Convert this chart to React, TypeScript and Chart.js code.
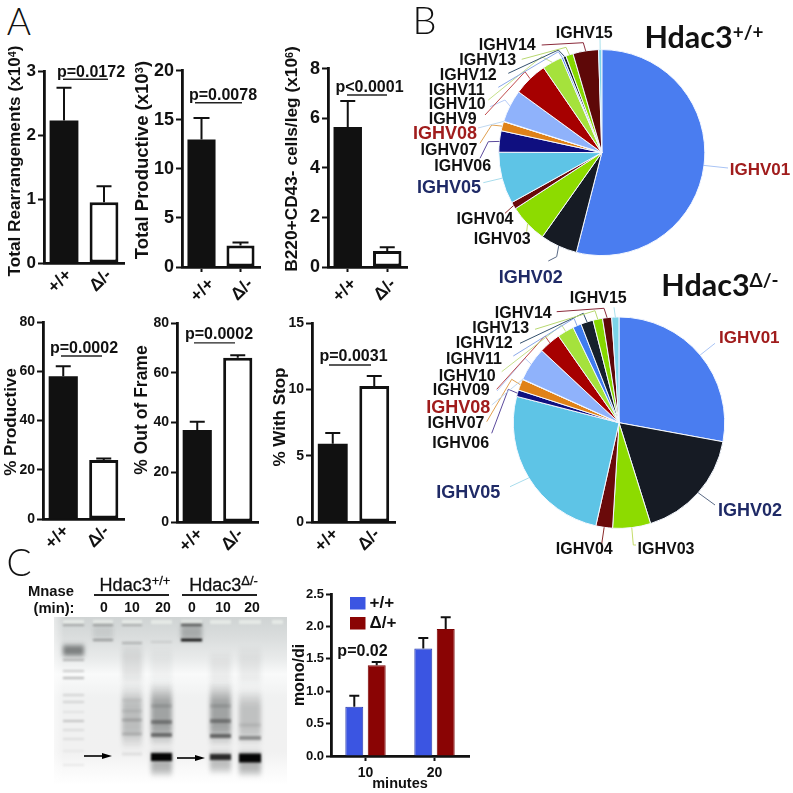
import React, { useEffect, useRef } from "react";
import { Chart, registerables } from "chart.js";

Chart.register(...registerables);

const BOLD = "bold";
const SANS = "'Liberation Sans', Arial, sans-serif";
const INK = "#111111";

// ---------- data ----------
const genotypes = ["+/+", "Δ/-"];
const rearrangements = [2.23, 0.95];
const rearrangementsHigh = [2.74, 1.2];
const productiveTotal = [13, 2.2];
const productiveTotalHigh = [15.2, 2.5];
const bCells = [5.65, 0.65];
const bCellsHigh = [6.7, 0.8];
const productivePct = [58, 24];
const productivePctHigh = [62, 24.6];
const outOfFrame = [37, 66];
const outOfFrameHigh = [40.3, 67];
const withStop = [5.9, 10.25];
const withStopHigh = [6.7, 11];

const ighv = ["IGHV01", "IGHV02", "IGHV03", "IGHV04", "IGHV05", "IGHV06", "IGHV07", "IGHV08", "IGHV09", "IGHV10", "IGHV11", "IGHV12", "IGHV13", "IGHV14", "IGHV15", "other"];
const pieWild = [53.9, 5.8, 6.05, 1.1, 8.1, 3.35, 1.45, 0.06, 5.1, 5.4, 3.15, 0.3, 0.45, 1.15, 4.0, 0.5];
const pieKo = [27.9, 17.3, 5.8, 2.55, 25.5, 1.0, 1.7, 0.06, 5.2, 3.35, 2.55, 1.3, 1.9, 1.45, 1.4, 1.1];
const pieColors = ["#4a7df0", "#161b24", "#8ddb00", "#6a0a0a", "#5ec4e6", "#0f0f80", "#e08218", "#cfe0f5", "#8fb2fb", "#a60000", "#a5e23c", "#3f7cf0", "#16202c", "#86d800", "#5e0808", "#7cd3e8"];
const leaderColors = ["#a9c4f5", "#5a6a85", "#c5dc6a", "#8a2a2a", "#a8dcec", "#5b4a9c", "#e0a050", "#c0d8f0", "#b8cdf8", "#c04a4a", "#c5e08a", "#8aa8e8", "#34506e", "#b8d870", "#8a2a3a", "#a8e0ec"];

const minutes = ["10", "20"];
const monoDiWild = [0.76, 1.66];
const monoDiWildHigh = [0.93, 1.82];
const monoDiKo = [1.4, 1.96];
const monoDiKoHigh = [1.45, 2.14];

// gel: [y, height, strength]
const markerBands = [[625, 1.2, 0.4], [660, 1.6, 0.3], [671, 1.2, 0.3], [678, 1.5, 0.35], [695, 1.2, 0.22], [702, 1.2, 0.22], [712, 1, 0.13], [721, 1.5, 0.26], [730, 1, 0.18], [739, 1, 0.17], [751, 1, 0.09], [765, 1.2, 0.11]];
const markerSmear = [[643, 658, 0.5]];
const lane0Bands = [[625, 1.2, 0.45], [640, 1.2, 0.5]];
const lane0Smear = [[622, 643, 0.08]];
const lane10Bands = [[625, 1.2, 0.35], [643, 1.2, 0.35], [700, 2.5, 0.06], [711, 2.5, 0.08], [720, 2.5, 0.18], [734, 2.5, 0.16], [754, 3, 0.08]];
const lane10Smear = [[640, 690, 0.09], [684, 750, 0.24]];
const lane20Bands = [[642, 1, 0.18], [706, 3, 0.12], [722, 4, 0.32], [735, 4, 0.45], [757, 8, 1]];
const lane20Smear = [[645, 690, 0.04], [682, 748, 0.36], [748, 778, 0.3]];
const ko0Bands = [[625, 2.5, 0.55], [640, 2.5, 1]];
const ko0Smear = [[622, 643, 0.25]];
const ko10Bands = [[706, 3, 0.12], [721, 4, 0.32], [736, 4, 0.5], [757, 6, 0.8]];
const ko10Smear = [[650, 690, 0.06], [682, 748, 0.36], [748, 775, 0.25]];
const ko20Bands = [[725, 3, 0.08], [738, 4, 0.35], [758, 9, 1]];
const ko20Smear = [[645, 690, 0.06], [688, 748, 0.22], [748, 778, 0.3]];

// ---------- layout (page pixels) ----------
const barPanels = [
  { id: "a1", v: rearrangements, hi: rearrangementsHigh, max: 3, step: 1, axisX: 44, x1: 124, top: 71, y0: 263, font: 17, xTick: 0, p: "p=0.0172", pY: 2.875, pX: [63, 108], pC: 91, pD: 2, cap: 7.5, labelShift: 5 },
  { id: "a2", v: productiveTotal, hi: productiveTotalHigh, max: 20, step: 5, axisX: 182, x1: 260, top: 70, y0: 267, font: 18, xTick: 5, p: "p=0.0078", pY: 16.75, pX: [195, 242], pC: 223, pD: 3, cap: 8, labelShift: 10 },
  { id: "a3", v: bCells, hi: bCellsHigh, max: 8, step: 2, axisX: 328, x1: 407, top: 68, y0: 267, font: 18, xTick: 5, p: "p<0.0001", pY: 6.94, pX: [347, 387], pC: 369.5, pD: 3, cap: 7.5, labelShift: 6 },
  { id: "a4", v: productivePct, hi: productivePctHigh, max: 80, step: 20, axisX: 43, x1: 124, top: 322, y0: 519, font: 14, xTick: 0, p: "p=0.0002", pY: 66.2, pX: [61, 102], pC: 84, pD: 3, cap: 7.5, labelShift: 3 },
  { id: "a5", v: outOfFrame, hi: outOfFrameHigh, max: 80, step: 20, axisX: 177, x1: 258, top: 323, y0: 522, font: 14, xTick: 0, p: "p=0.0002", pY: 72, pX: [194, 235], pC: 219, pD: 4, cap: 7.5, labelShift: 3 },
  { id: "a6", v: withStop, hi: withStopHigh, max: 15, step: 5, axisX: 312, x1: 395, top: 323, y0: 522, font: 14, xTick: 0, p: "p=0.0031", pY: 11.83, pX: [329, 371], pC: 353.5, pD: 4, cap: 7.5, labelShift: 3 },
];

const pieWildLayout = {
  left: 405, top: 20, width: 388, height: 268, cx: 601.8, cy: 152.6, r: 102.5,
  labels: [
    [760, 170.7, 17, "#a01c1c"], [530.7, 278, 18, "#1f2a66"], [502.3, 240, 16, INK], [485, 220, 16, INK], [449, 188, 18, "#1f2a66"],
    [462.7, 166.7, 16, INK], [449, 150.7, 16, INK], [445, 134, 18, "#a01c1c"], [452.7, 119.3, 16, INK], [457.3, 105, 16, INK],
    [456.7, 90.7, 16, INK], [468.3, 76, 16, INK], [487.7, 61, 16, INK], [507.3, 46, 16, INK], [584.3, 33.3, 16, INK],
  ],
  names: ["IGHV01", "IGHV02", "IGHV03", "IGHV04", "IGHV05", "IGHV06", "IGHV07", "IGHV08", "IGHV9", "IGHV10", "IGHV11", "IGHV12", "IGHV13", "IGHV14", "IGHV15"],
  leaders: [
    [[728, 168]], [[556.7, 256.7], [548.3, 261]], [[526.7, 231.7]], [[505, 213.3]], [[483.3, 182.7]],
    [[488.3, 141.7], [480, 158.3]], [[491.7, 125], [480, 143.3]], [[478, 128]], [[505, 100], [490, 106.7]], [[525, 71.7], [485, 115]],
    [[541.7, 56.7], [488.3, 100]], [[558.3, 51.7], [498.3, 87.3]], [[558.3, 50], [508.3, 73.3]], [[566, 47.3], [521.7, 59.3]], [[583.3, 42.7], [541.7, 45]], [[600, 36.7]],
  ],
};

const pieKoLayout = {
  left: 405, top: 285, width: 388, height: 285, cx: 619, cy: 422.7, r: 105.2,
  labels: [
    [749.3, 338.3, 17, "#a01c1c"], [750, 510.7, 18, "#1f2a66"], [666, 550, 16, INK], [584.3, 550, 16, INK], [468.3, 493.3, 18, "#1f2a66"],
    [460.7, 443.3, 16, INK], [456, 424, 16, INK], [458.3, 407.7, 18, "#a01c1c"], [461.3, 391, 16, INK], [467.3, 376.7, 16, INK],
    [474, 360, 16, INK], [484.3, 343.3, 16, INK], [500.7, 328.3, 16, INK], [523.3, 313.3, 16, INK], [598.3, 298.3, 16, INK],
  ],
  names: ["IGHV01", "IGHV02", "IGHV03", "IGHV04", "IGHV05", "IGHV06", "IGHV07", "IGHV08", "IGHV09", "IGHV10", "IGHV11", "IGHV12", "IGHV13", "IGHV14", "IGHV15"],
  leaders: [
    [[715, 343.3]], [[715, 505]], [[633.3, 545], [636, 545]], [[601.7, 544]], [[510, 486.7]],
    [[508.3, 389.3], [491.7, 433.3]], [[511.7, 379.3], [486.7, 421.7]], [[491.7, 405]], [[525, 358.3], [497, 391]], [[545, 336], [496.7, 389.3]],
    [[561.7, 325], [501.7, 371.7]], [[574, 318.3], [513.3, 356]], [[583.3, 313.3], [520, 343.3]], [[595, 310.7], [535, 329.3]], [[604, 308.3], [556.7, 311.7]], [[614, 307.3]],
  ],
};

// ---------- plugins ----------
function hiPlugin(series: { hi: number[]; cap: number; dataset: number }[]) {
  return {
    id: "errorBars",
    afterDatasetsDraw(chart: any) {
      const ctx = chart.ctx;
      const y = chart.scales.y;
      ctx.save();
      ctx.strokeStyle = INK;
      ctx.lineWidth = 2;
      series.forEach((s) => {
        const meta = chart.getDatasetMeta(s.dataset);
        s.hi.forEach((h, i) => {
          const el = meta.data[i];
          const yy = y.getPixelForValue(h);
          ctx.beginPath();
          ctx.moveTo(el.x, el.y);
          ctx.lineTo(el.x, yy);
          ctx.moveTo(el.x - s.cap, yy);
          ctx.lineTo(el.x + s.cap, yy);
          ctx.stroke();
        });
      });
      ctx.restore();
    },
  };
}

function bracketPlugin(P: any, left: number) {
  return {
    id: "bracket",
    afterDraw(chart: any) {
      const ctx = chart.ctx;
      const yy = chart.scales.y.getPixelForValue(P.pY);
      ctx.save();
      ctx.strokeStyle = "#222";
      ctx.lineWidth = 1.4;
      ctx.beginPath();
      ctx.moveTo(P.pX[0] - left, yy);
      ctx.lineTo(P.pX[1] - left, yy);
      ctx.stroke();
      ctx.fillStyle = INK;
      ctx.font = `bold 16px ${SANS}`;
      ctx.textAlign = "center";
      ctx.fillText(P.p, P.pC - left, yy - P.pD);
      ctx.restore();
    },
  };
}

function pieLabelPlugin(L: any) {
  return {
    id: "pieLabels",
    afterDraw(chart: any) {
      const ctx = chart.ctx;
      const arcs = chart.getDatasetMeta(0).data;
      ctx.save();
      ctx.lineWidth = 1;
      L.leaders.forEach((pts: number[][], i: number) => {
        const a = arcs[i];
        const mid = (a.startAngle + a.endAngle) / 2;
        ctx.strokeStyle = leaderColors[i];
        ctx.beginPath();
        ctx.moveTo(a.x + Math.cos(mid) * a.outerRadius, a.y + Math.sin(mid) * a.outerRadius);
        pts.forEach((p) => ctx.lineTo(p[0] - L.left, p[1] - L.top));
        ctx.stroke();
      });
      ctx.textAlign = "center";
      ctx.textBaseline = "middle";
      L.labels.forEach((l: any[], i: number) => {
        ctx.font = `bold ${l[2]}px ${SANS}`;
        ctx.fillStyle = l[3];
        ctx.fillText(L.names[i], l[0] - L.left, l[1] - L.top);
      });
      ctx.restore();
    },
  };
}

function legendPlugin(left: number, top: number) {
  return {
    id: "sideLegend",
    afterDraw(chart: any) {
      const ctx = chart.ctx;
      ctx.save();
      chart.data.datasets.forEach((d: any, i: number) => {
        const y = 597 + i * 20 - top;
        ctx.fillStyle = d.backgroundColor;
        ctx.fillRect(350 - left, y, 15.5, 12.5);
        ctx.fillStyle = INK;
        ctx.font = `bold 17px ${SANS}`;
        ctx.textBaseline = "middle";
        ctx.fillText(d.label, 369.5 - left, y + 6);
      });
      ctx.font = `bold 16px ${SANS}`;
      ctx.textBaseline = "alphabetic";
      ctx.textAlign = "center";
      ctx.fillText("p=0.02", 362.5 - left, 656 - top);
      ctx.restore();
    },
  };
}

// ---------- charts ----------
function axisOpts(font: number, tickLen: number, extra: any) {
  return {
    border: { color: INK, width: 2.8 },
    grid: { drawOnChartArea: false, drawTicks: true, tickLength: tickLen, tickWidth: tickLen ? 2 : 0, tickColor: INK, offset: false },
    ticks: { color: INK, font: { family: SANS, weight: BOLD, size: font }, autoSkip: false, padding: 2, ...extra },
  };
}

function drawBar(canvas: HTMLCanvasElement, P: any) {
  const left = P.axisX - 42;
  return new Chart(canvas, {
    type: "bar",
    data: {
      labels: genotypes,
      datasets: [{
        data: P.v,
        backgroundColor: ["#111111", "#ffffff"],
        borderColor: ["#111111", "#111111"],
        borderWidth: [0, 3],
        borderSkipped: false,
        barPercentage: 0.72,
        categoryPercentage: 1,
      }],
    },
    options: {
      animation: false,
      responsive: false,
      devicePixelRatio: 1,
      layout: { padding: { top: 12, right: 14, left: 0, bottom: 0 } },
      plugins: { legend: { display: false }, tooltip: { enabled: false } },
      scales: {
        x: { ...axisOpts(17.5, P.xTick, { minRotation: 45, maxRotation: 45, labelOffset: P.labelShift }), afterFit: (s: any) => { s.height = 40; } },
        y: { ...axisOpts(P.font, 6, { stepSize: P.step }), min: 0, max: P.max, afterFit: (s: any) => { s.width = 42; } },
      },
    } as any,
    plugins: [hiPlugin([{ hi: P.hi, cap: P.cap, dataset: 0 }]), bracketPlugin(P, left)],
  });
}

function drawPie(canvas: HTMLCanvasElement, values: number[], L: any) {
  const R = L.r + 1;
  return new Chart(canvas, {
    type: "pie",
    data: { labels: ighv, datasets: [{ data: values, backgroundColor: pieColors, borderColor: "#f4f8ff", borderWidth: 1 }] },
    options: {
      animation: false,
      responsive: false,
      devicePixelRatio: 1,
      layout: { padding: { left: L.cx - R - L.left, top: L.cy - R - L.top, right: L.left + L.width - L.cx - R, bottom: L.top + L.height - L.cy - R } },
      plugins: { legend: { display: false }, tooltip: { enabled: false } },
    } as any,
    plugins: [pieLabelPlugin(L)],
  });
}

const C7 = { left: 290, top: 582, width: 188, height: 211, axisX: 331, x1: 469, yTop: 594, y0: 756 };
function drawMono(canvas: HTMLCanvasElement) {
  const C = C7;
  return new Chart(canvas, {
    type: "bar",
    data: {
      labels: minutes,
      datasets: [
        { label: "+/+", data: monoDiWild, backgroundColor: "#3b55e2", borderColor: "#2a3cae", borderWidth: 1, barPercentage: 0.8, categoryPercentage: 0.65 },
        { label: "Δ/+", data: monoDiKo, backgroundColor: "#8a0404", borderColor: "#7a0404", borderWidth: 1, barPercentage: 0.8, categoryPercentage: 0.65 },
      ],
    },
    options: {
      animation: false,
      responsive: false,
      devicePixelRatio: 1,
      layout: { padding: { top: C.yTop - C.top, right: C.left + C.width - C.x1, left: 0, bottom: 0 } },
      plugins: { legend: { display: false }, tooltip: { enabled: false } },
      scales: {
        x: {
          ...axisOpts(14, 5, { maxRotation: 0, padding: 4 }),
          title: { display: true, text: "minutes", color: INK, font: { family: SANS, weight: BOLD, size: 14.5 }, padding: 0 },
          afterFit: (s: any) => { s.height = C.top + C.height - C.y0; },
        },
        y: {
          ...axisOpts(13, 5, { stepSize: 0.5, callback: (v: number) => v.toFixed(1) }),
          min: 0, max: 2.5,
          title: { display: true, text: "mono/di", color: INK, font: { family: SANS, weight: BOLD, size: 16 }, padding: 0 },
          afterFit: (s: any) => { s.width = C.axisX - C.left; },
        },
      },
    } as any,
    plugins: [hiPlugin([{ hi: monoDiWildHigh, cap: 5, dataset: 0 }, { hi: monoDiKoHigh, cap: 5, dataset: 1 }]), legendPlugin(C.left, C.top)],
  });
}

// ---------- gel image (not a chart: a photographed gel, painted in grey) ----------
const GEL = { x: 54, y: 617, w: 233, h: 168 };
function drawGel(canvas: HTMLCanvasElement) {
  const ctx = canvas.getContext("2d")!;
  const { x: gx, y: gy, w, h } = GEL;
  const bg = ctx.createLinearGradient(0, 0, 0, h);
  bg.addColorStop(0, "#cfd3d3");
  bg.addColorStop(0.12, "#dadddd");
  bg.addColorStop(0.25, "#e9ebeb");
  bg.addColorStop(0.34, "#f9fafa");
  bg.addColorStop(0.48, "#f0f1f1");
  bg.addColorStop(0.8, "#f1f1f1");
  bg.addColorStop(0.92, "#fafafa");
  bg.addColorStop(1, "#ffffff");
  ctx.fillStyle = bg;
  ctx.fillRect(0, 0, w, h);
  const side = ctx.createLinearGradient(0, 0, 10, 0);
  side.addColorStop(0, "rgba(255,255,255,0.5)");
  side.addColorStop(1, "rgba(255,255,255,0)");
  ctx.fillStyle = side;
  ctx.fillRect(0, 0, 10, h);

  const lanes = [
    { x0: 63, x1: 84, bands: markerBands, smear: markerSmear },
    { x0: 93, x1: 113, bands: lane0Bands, smear: lane0Smear },
    { x0: 122, x1: 142, bands: lane10Bands, smear: lane10Smear },
    { x0: 151, x1: 172, bands: lane20Bands, smear: lane20Smear },
    { x0: 181, x1: 202, bands: ko0Bands, smear: ko0Smear },
    { x0: 210, x1: 231, bands: ko10Bands, smear: ko10Smear },
    { x0: 239, x1: 261, bands: ko20Bands, smear: ko20Smear },
    { x0: 272, x1: 283, bands: [], smear: [] },
  ];
  lanes.forEach((l) => {
    const X = l.x0 - gx;
    const W = l.x1 - l.x0;
    ctx.filter = "blur(1.2px)";
    ctx.fillStyle = "rgba(236,240,236,0.75)";
    ctx.fillRect(X, 3, W, 4);
    ctx.filter = "blur(2px)";
    l.smear.forEach(([a, b, s]) => {
      const g = ctx.createLinearGradient(0, a - gy, 0, b - gy);
      g.addColorStop(0, "rgba(20,25,25,0)");
      g.addColorStop(0.3, `rgba(20,25,25,${s})`);
      g.addColorStop(0.7, `rgba(20,25,25,${s})`);
      g.addColorStop(1, "rgba(20,25,25,0)");
      ctx.fillStyle = g;
      ctx.fillRect(X, a - gy, W, b - a);
    });
    ctx.filter = "blur(1.1px)";
    l.bands.forEach(([y, bh, s]) => {
      ctx.fillStyle = `rgba(5,5,5,${s})`;
      ctx.fillRect(X, y - gy - bh / 2, W, bh);
    });
  });
  ctx.filter = "none";
  // arrows
  [[84, 112, 756], [177, 205, 758]].forEach(([a, b, y]) => {
    ctx.strokeStyle = "#000";
    ctx.lineWidth = 1.6;
    ctx.beginPath();
    ctx.moveTo(a - gx, y - gy);
    ctx.lineTo(b - gx - 8, y - gy);
    ctx.stroke();
    ctx.fillStyle = "#000";
    ctx.beginPath();
    ctx.moveTo(b - gx, y - gy);
    ctx.lineTo(b - gx - 10, y - gy - 3);
    ctx.lineTo(b - gx - 10, y - gy + 3);
    ctx.fill();
  });
}

// ---------- text ----------
function T({ x, y, size, rot, weight, color, family, stroke, children }: any) {
  return (
    <div
      style={{
        position: "absolute", left: x, top: y, transform: `translate(-50%,-50%) rotate(${rot || 0}deg)`,
        fontFamily: family || SANS, fontSize: size, fontWeight: weight || "bold", color: color || INK,
        whiteSpace: "nowrap", lineHeight: 1, WebkitTextStroke: stroke ? `${stroke}px ${INK}` : undefined,
      }}
    >
      {children}
    </div>
  );
}
const Sup = ({ children, size }: any) => (
  <span style={{ fontSize: size || "0.62em", verticalAlign: "0.45em", lineHeight: 0 }}>{children}</span>
);

export default function App() {
  const barRefs = useRef<(HTMLCanvasElement | null)[]>([]);
  const pie1 = useRef<HTMLCanvasElement>(null);
  const pie2 = useRef<HTMLCanvasElement>(null);
  const mono = useRef<HTMLCanvasElement>(null);
  const gel = useRef<HTMLCanvasElement>(null);

  useEffect(() => {
    const charts = barPanels.map((P, i) => drawBar(barRefs.current[i]!, P));
    charts.push(drawPie(pie1.current!, pieWild, pieWildLayout));
    charts.push(drawPie(pie2.current!, pieKo, pieKoLayout));
    charts.push(drawMono(mono.current!));
    drawGel(gel.current!);
    return () => charts.forEach((c) => c.destroy());
  }, []);

  const abs = (left: number, top: number): React.CSSProperties => ({ position: "absolute", left, top });

  return (
    <div style={{ position: "absolute", left: 0, top: 0, width: 793, height: 793, overflow: "hidden", background: "#fff" }}>
      {barPanels.map((P, i) => {
        const left = P.axisX - 42;
        const top = P.top - 12;
        const width = P.x1 - left + 14;
        const height = P.y0 - top + 40;
        return <canvas key={P.id} ref={(el) => { barRefs.current[i] = el; }} width={width} height={height} style={{ ...abs(left, top), width, height }} />;
      })}
      <canvas ref={pie1} width={pieWildLayout.width} height={pieWildLayout.height} style={{ ...abs(pieWildLayout.left, pieWildLayout.top), width: pieWildLayout.width, height: pieWildLayout.height }} />
      <canvas ref={pie2} width={pieKoLayout.width} height={pieKoLayout.height} style={{ ...abs(pieKoLayout.left, pieKoLayout.top), width: pieKoLayout.width, height: pieKoLayout.height }} />
      <canvas ref={gel} width={GEL.w} height={GEL.h} style={{ ...abs(GEL.x, GEL.y), width: GEL.w, height: GEL.h }} />
      <canvas ref={mono} width={C7.width} height={C7.height} style={{ ...abs(C7.left, C7.top), width: C7.width, height: C7.height }} />

      <T x={19} y={20} size={37} weight={300} family="Lato, sans-serif">A</T>
      <T x={424.5} y={19} size={38} weight={300} family="Lato, sans-serif">B</T>
      <T x={19} y={561} size={37} weight={300} family="Lato, sans-serif">C</T>

      <T x={15} y={161} size={17.2} rot={-90}>Total Rearrangements (x10<Sup>4</Sup>)</T>
      <T x={142} y={160} size={18.5} rot={-90}>Total Productive (x10<Sup>3</Sup>)</T>
      <T x={292} y={159} size={17.3} rot={-90}>B220+CD43- cells/leg (x10<Sup>6</Sup>)</T>
      <T x={10} y={422} size={17} rot={-90}>% Productive</T>
      <T x={142} y={410} size={17.5} rot={-90}>% Out of Frame</T>
      <T x={279} y={417} size={17} rot={-90}>% With Stop</T>

      <T x={704} y={36} size={30.5} family="Lato, sans-serif">Hdac3<Sup>+/+</Sup></T>
      <T x={720} y={284} size={30.5} family="Lato, sans-serif">Hdac3<Sup>Δ/-</Sup></T>

      <T x={51} y={591} size={14.8}>Mnase</T>
      <T x={54} y={608} size={14.8}>(min):</T>
      <T x={135} y={585} size={18} weight="normal" stroke={0.3}>Hdac3<Sup size="0.72em">+/+</Sup></T>
      <T x={223.5} y={585} size={18} weight="normal" stroke={0.3}>Hdac3<Sup size="0.72em">Δ/-</Sup></T>
      <div style={{ ...abs(94, 594), width: 75, height: 1.5, background: "#222" }} />
      <div style={{ ...abs(182, 594), width: 75, height: 1.5, background: "#222" }} />
      <T x={104} y={607} size={14}>0</T>
      <T x={132} y={607} size={14}>10</T>
      <T x={163} y={607} size={14}>20</T>
      <T x={192} y={607} size={14}>0</T>
      <T x={223} y={607} size={14}>10</T>
      <T x={252} y={607} size={14}>20</T>
    </div>
  );
}
